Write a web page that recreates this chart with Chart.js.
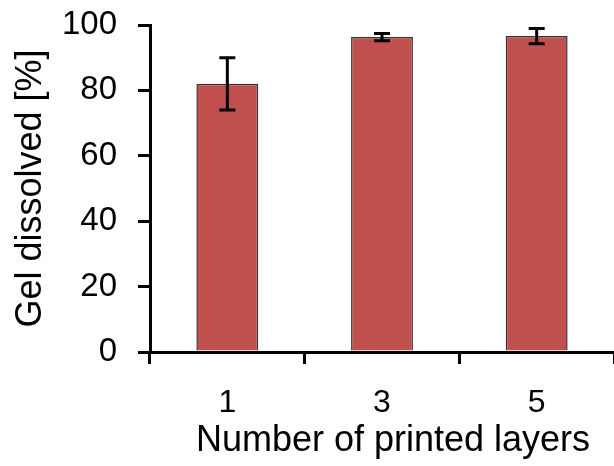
<!DOCTYPE html>
<html>
<head>
<meta charset="utf-8">
<script src="https://cdn.jsdelivr.net/npm/chart.js@4"></script>
<style>
    html, body { margin: 0; padding: 0; background: #fff; }
    #wrap { width: 614px; height: 466px; }
</style>
</head>
<body>
<div id="wrap"><canvas id="gelChart" width="614" height="466"></canvas></div>
<script>
// Data
const layers = ['1', '3', '5'];
const dissolved = [82.0, 96.3, 96.6];
const dissolvedErr = [8.0, 1.1, 2.3];
const yTicks = [0, 20, 40, 60, 80, 100];
const xTitle = 'Number of printed layers';

const FONT = "'Liberation Sans', Arial, sans-serif";

// Simple error bar plugin, positions come from the y scale
const errorBars = {
    id: 'errorBars',
    afterDatasetsDraw(chart) {
        const ctx = chart.ctx;
        const yScale = chart.scales.y;
        const meta = chart.getDatasetMeta(0);
        ctx.save();
        ctx.strokeStyle = '#000';
        ctx.lineWidth = 3;
        meta.data.forEach((bar, i) => {
            const top = yScale.getPixelForValue(dissolved[i] + dissolvedErr[i]);
            const bottom = yScale.getPixelForValue(dissolved[i] - dissolvedErr[i]);
            const half = 8;
            ctx.beginPath();
            ctx.moveTo(bar.x, top);
            ctx.lineTo(bar.x, bottom);
            ctx.moveTo(bar.x - half, top);
            ctx.lineTo(bar.x + half, top);
            ctx.moveTo(bar.x - half, bottom);
            ctx.lineTo(bar.x + half, bottom);
            ctx.stroke();
        });
        ctx.restore();
    }
};

// x title drawn a bit right of the axis centre, like the original figure
const xTitlePlugin = {
    id: 'xTitlePlugin',
    afterDraw(chart) {
        const ctx = chart.ctx;
        const xs = chart.scales.x;
        ctx.save();
        ctx.fillStyle = '#000';
        ctx.font = '36px ' + FONT;
        ctx.textAlign = 'center';
        ctx.textBaseline = 'middle';
        ctx.fillText(xTitle, (xs.left + xs.right) / 2 + 11, xs.bottom - 25);
        ctx.restore();
    }
};

new Chart(document.getElementById('gelChart').getContext('2d'), {
    type: 'bar',
    data: {
        labels: layers,
        datasets: [{
            data: dissolved,
            backgroundColor: '#C0504D',
            borderColor: '#333',
            borderWidth: 1.5,
            categoryPercentage: 1,
            barPercentage: 0.4
        }]
    },
    options: {
        responsive: false,
        animation: false,
        layout: { padding: { top: 25, left: 0, right: 0, bottom: 0 } },
        plugins: {
            legend: { display: false },
            tooltip: { enabled: false }
        },
        scales: {
            x: {
                z: 1,
                offset: true,
                afterFit: (scale) => {
                    scale.height = 114;
                    scale.paddingLeft = 0;
                    scale.paddingRight = 0;
                },
                grid: {
                    offset: true,
                    drawOnChartArea: false,
                    drawTicks: true,
                    tickLength: 12,
                    color: '#000',
                    lineWidth: 3
                },
                border: { display: true, color: '#000', width: 3 },
                ticks: {
                    color: '#000',
                    padding: 20,
                    font: { family: FONT, size: 32 }
                }
            },
            y: {
                min: yTicks[0],
                max: yTicks[yTicks.length - 1],
                afterFit: (scale) => {
                    scale.width = 150;
                    scale.paddingTop = 0;
                    scale.paddingBottom = 0;
                },
                afterBuildTicks: (scale) => { scale.ticks = yTicks.map(v => ({ value: v })); },
                grid: {
                    drawOnChartArea: false,
                    drawTicks: true,
                    tickLength: 12,
                    color: '#000',
                    lineWidth: 3
                },
                border: { display: true, color: '#000', width: 3 },
                ticks: {
                    color: '#000',
                    padding: 21,
                    font: { family: FONT, size: 33 }
                },
                title: {
                    display: true,
                    text: 'Gel dissolved [%]',
                    color: '#000',
                    padding: { top: 9, bottom: 0 },
                    font: { family: FONT, size: 36 }
                }
            }
        }
    },
    plugins: [errorBars, xTitlePlugin]
});
</script>
</body>
</html>
